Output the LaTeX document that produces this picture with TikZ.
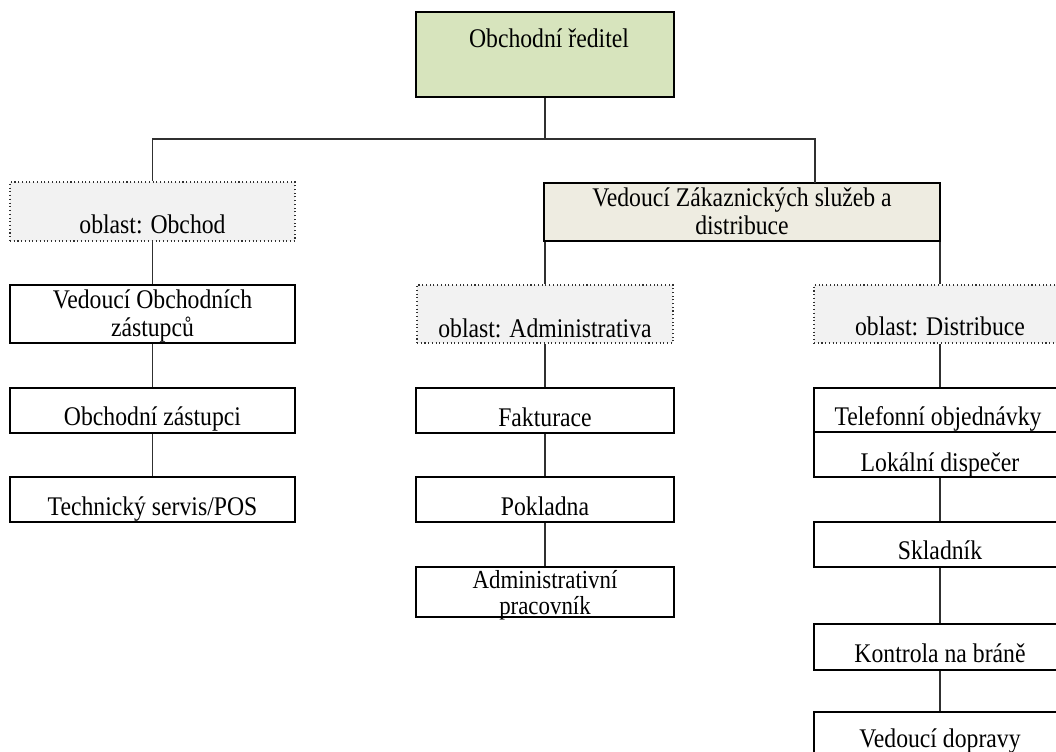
\documentclass[tikz,border=0pt]{standalone}
\usepackage{fontspec}
\setmainfont{Liberation Serif}[FakeStretch=0.88]
\usetikzlibrary{fit}
\definecolor{dirgreen}{HTML}{D7E4BD}
\definecolor{vzsfill}{HTML}{EEECE1}
\definecolor{oblfill}{HTML}{F2F2F2}
\definecolor{linec}{HTML}{303030}
\tikzset{
  box/.style={draw=black, line width=2.1pt, fill=white, inner sep=0pt},
  thinbox/.style={draw=black, line width=0.8pt, fill=white, inner sep=0pt},
  oblbox/.style={draw=linec, line width=0.8pt, dotted, fill=oblfill, inner sep=0pt},
  lbl/.style={anchor=base, inner sep=0pt, align=center, font=\fontsize{20.2}{20.6}\selectfont},
  tightlbl/.style={lbl, font=\fontsize{19.5}{18.8}\selectfont},
  conn/.style={draw=linec, line width=0.9pt}
}
\begin{document}
\begin{tikzpicture}[x=0.75pt, y=-0.75pt]
\useasboundingbox (0,0) rectangle (1056,751);
\clip (0,0) rectangle (1056,751);
% boxes
\node[box, fill=dirgreen, fit={(416,12) (674,97)}] (dir) {};
\node[oblbox, fit={(10,182) (295,241)}] (obl1) {};
\node[box, fill=vzsfill, fit={(544,183) (940,241)}] (vzs) {};
\node[box, fit={(10,285) (295,343)}] (vob) {};
\node[box, fit={(10,388) (295,433)}] (oz) {};
\node[box, fit={(10,477) (295,522)}] (ts) {};
\node[oblbox, fit={(417,285) (673,343)}] (obl2) {};
\node[box, fit={(416,388) (674,433)}] (fak) {};
\node[box, fit={(416,477) (674,522)}] (pok) {};
\node[box, fit={(416,567) (674,617)}] (adm) {};
\node[oblbox, fit={(814,285) (1066,343)}] (obl3) {};
\node[box, fit={(814,388) (1066,432)}] (tel) {};
\node[box, fit={(814,432) (1066,477)}] (lok) {};
\node[box, fit={(814,522) (1066,567)}] (skl) {};
\node[box, fit={(814,624) (1066,670)}] (kon) {};
\node[thinbox, fit={(814,712) (1066,790)}] (vd) {};
% connectors
\coordinate (j1) at (545,139);
\coordinate (vzsin) at (815,183);
\draw[conn] (dir.south) -- (j1);
\draw[conn] (obl1.north) |- (j1) -| (vzsin);
\draw[conn] (obl1.south) -- (vob.north);
\draw[conn] (vob.south) -- (oz.north);
\draw[conn] (oz.south) -- (ts.north);
\draw[conn] (obl2.north) -- (obl2.north |- vzs.south);
\draw[conn] (obl3.north) -- (obl3.north |- vzs.south);
\draw[conn] (obl2.south) -- (fak.north);
\draw[conn] (fak.south) -- (pok.north);
\draw[conn] (pok.south) -- (adm.north);
\draw[conn] (obl3.south) -- (tel.north);
\draw[conn] (lok.south) -- (skl.north);
\draw[conn] (skl.south) -- (kon.north);
\draw[conn] (kon.south) -- (vd.north);
% labels
\node[lbl] (tdir) at (549,47) {Obchodní ředitel};
\node[lbl] (tobl1) at (152.5,233) {oblast: Obchod};
\node[lbl] (tvzs) at (742,234) {Vedoucí Zákaznických služeb a\\distribuce};
\node[lbl] (tvob) at (152.5,336) {Vedoucí Obchodních\\zástupců};
\node[lbl] (toz) at (152.5,425) {Obchodní zástupci};
\node[lbl] (tts) at (152.5,515) {Technický servis/POS};
\node[lbl] (tobl2) at (545,337) {oblast: Administrativa};
\node[lbl] (tfak) at (545,426) {Fakturace};
\node[lbl] (tpok) at (545,515) {Pokladna};
\node[tightlbl] (tadm) at (545,614) {Administrativní\\pracovník};
\node[lbl] (tobl3) at (940,335) {oblast: Distribuce};
\node[lbl] (ttel) at (938,425) {Telefonní objednávky};
\node[lbl] (tlok) at (940,471) {Lokální dispečer};
\node[lbl] (tskl) at (940,559) {Skladník};
\node[lbl] (tkon) at (940,662) {Kontrola na bráně};
\node[lbl] (tvd) at (940,747) {Vedoucí dopravy};
\end{tikzpicture}
\end{document}
